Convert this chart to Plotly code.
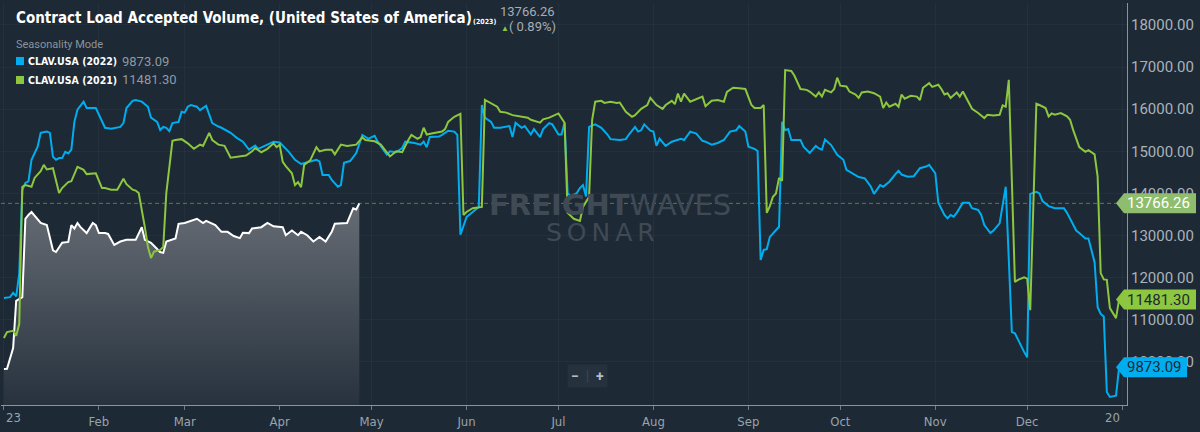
import pandas as pd
import plotly.graph_objects as go

# Seasonality mode: every year plotted on the 2023 calendar (day offsets from Jan 1)
days_2023 = [0, 1, 3, 4, 6, 7, 8, 9, 12, 14, 16, 17, 19, 21, 22, 23, 24, 25, 27, 29, 30, 31, 33, 34, 36,
             38, 40, 43, 45, 46, 48, 51, 52, 53, 56, 57, 59, 61, 63, 65, 66, 69, 71, 73, 75, 77, 78, 80,
             81, 84, 86, 88, 91, 92, 94, 96, 97, 99, 101, 103, 105, 107, 108, 112, 114, 115, 116]
vals_2023 = [9834, 9840, 10330, 11450, 11540, 13400, 13490, 13560, 13300, 13250, 12650, 12610, 12830,
             12850, 13250, 13170, 13300, 13200, 13060, 13300, 13250, 13060, 13060, 13040, 12780, 12860,
             12900, 12900, 13200, 12900, 12830, 12610, 12590, 12860, 12930, 13280, 13300, 13350, 13400,
             13300, 13350, 13250, 13090, 13090, 12990, 12940, 13070, 13060, 13170, 13200, 13300, 13220,
             13200, 13010, 13120, 13010, 13090, 13010, 12860, 12970, 12860, 13090, 13280, 13300, 13650,
             13620, 13766.26]

days_2022 = [0, 2, 3, 4, 5, 6, 7, 8, 9, 11, 12, 14, 15, 16, 17, 18, 19, 20, 21, 22, 23, 24, 26, 27, 30,
             31, 33, 35, 38, 39, 40, 42, 43, 45, 47, 48, 50, 51, 52, 53, 54, 55, 57, 58, 59, 60, 61, 63,
             64, 66, 68, 70, 71, 74, 76, 78, 80, 82, 83, 86, 88, 90, 93, 95, 97, 100, 102, 103, 104, 106,
             107, 109, 110, 111, 113, 115, 117, 119, 121, 122, 125, 126, 128, 130, 131, 134, 136, 137,
             138, 139, 142, 143, 145, 147, 148, 149, 151, 153, 155, 156, 157, 159, 160, 162, 165, 166,
             167, 169, 170, 172, 173, 175, 176, 178, 179, 181, 182, 183, 184, 185, 187, 188, 189, 190,
             191, 193, 195, 197, 198, 201, 203, 204, 206, 207, 208, 209, 211, 212, 213, 214, 216, 218,
             221, 222, 224, 226, 228, 229, 231, 233, 235, 237, 239, 240, 242, 243, 245, 246, 247, 248,
             249, 250, 252, 253, 254, 255, 256, 257, 260, 261, 263, 265, 266, 267, 268, 270, 272, 274,
             275, 277, 279, 281, 283, 284, 286, 287, 289, 291, 292, 293, 295, 297, 299, 301, 302, 304,
             305, 307, 308, 309, 310, 311, 313, 315, 316, 318, 319, 320, 322, 323, 325, 327, 329, 330,
             331, 333, 334, 335, 337, 338, 339, 341, 343, 346, 347, 348, 350, 351, 353, 354, 356, 357,
             358, 359, 360, 361, 363, 364]
vals_2022 = [11520, 11540, 11640, 11560, 12100, 14080, 14250, 14290, 14800, 15110, 15440, 15470, 15440,
             14870, 14800, 14840, 14840, 14990, 14950, 15040, 15700, 15990, 16180, 16030, 16030, 15870,
             15560, 15540, 15580, 15670, 16030, 16200, 16220, 16180, 16060, 15800, 15700, 15510, 15580,
             15560, 15480, 15670, 15700, 15940, 15920, 16060, 16100, 16060, 15980, 16080, 15670, 15590,
             15560, 15440, 15320, 15230, 15040, 15140, 15060, 15160, 15230, 15210, 14990, 14800, 14700,
             14760, 14800, 14760, 14440, 14440, 14320, 14160, 14200, 14730, 14770, 14960, 15390, 15300,
             15370, 15230, 14920, 15000, 14980, 15080, 15230, 15200, 15160, 15230, 15100, 15340, 15350,
             15390, 15490, 15470, 15390, 13020, 13440, 13560, 13680, 16100, 15800, 15700, 15560, 15560,
             15600, 15340, 15680, 15560, 15600, 15400, 15530, 15340, 15530, 15670, 15640, 15400, 15400,
             15680, 14010, 13930, 14010, 14130, 14200, 13930, 15580, 15640, 15560, 15400, 15290, 15270,
             15290, 15400, 15580, 15470, 15500, 15640, 15490, 15470, 15130, 15300, 15130, 15230, 15300,
             15270, 15470, 15420, 15250, 15230, 15160, 15200, 15270, 15470, 15500, 15600, 15470, 15110,
             15060, 15010, 12420, 12660, 12680, 12970, 13120, 13210, 15700, 15500, 15530, 15270, 15270,
             15110, 14960, 15130, 15070, 15040, 15280, 15150, 14920, 14800, 14560, 14480, 14390, 14360,
             14160, 13990, 14200, 14160, 14280, 14460, 14540, 14450, 14400, 14410, 14600, 14640, 14680,
             14480, 13780, 13490, 13410, 13490, 13450, 13540, 13780, 13780, 13650, 13610, 13490, 13250,
             13060, 13120, 13290, 14160, 10710, 10680, 10520, 10240, 10110, 13990, 14040, 14000, 13820,
             13700, 13650, 13650, 13540, 13410, 13120, 13060, 12930, 12930, 12370, 11300, 11140, 11080,
             9290, 9170, 9200, 9873.09]

days_2021 = [0, 1, 3, 4, 5, 6, 7, 9, 10, 12, 13, 14, 16, 17, 18, 19, 21, 22, 24, 26, 27, 30, 32, 33, 35,
             37, 39, 40, 42, 43, 44, 46, 47, 48, 49, 51, 52, 53, 55, 56, 58, 60, 61, 62, 64, 65, 67, 68,
             70, 72, 74, 76, 78, 79, 81, 82, 84, 86, 88, 89, 90, 91, 92, 94, 95, 96, 97, 98, 100, 102,
             103, 105, 107, 108, 110, 112, 115, 117, 118, 121, 123, 125, 126, 128, 130, 132, 133, 135,
             136, 137, 138, 140, 143, 144, 145, 147, 149, 150, 151, 153, 155, 156, 157, 159, 161, 162,
             164, 166, 169, 171, 172, 175, 176, 178, 181, 183, 184, 186, 188, 189, 191, 192, 193, 195,
             196, 198, 200, 201, 203, 205, 206, 208, 210, 211, 213, 215, 216, 218, 219, 220, 221, 222,
             224, 226, 228, 229, 231, 233, 235, 236, 238, 240, 242, 244, 245, 247, 248, 249, 250, 251,
             252, 253, 254, 255, 257, 258, 260, 262, 263, 265, 266, 267, 268, 270, 271, 272, 273, 275,
             276, 278, 279, 280, 282, 284, 286, 287, 288, 289, 291, 292, 293, 294, 296, 298, 299, 300,
             302, 303, 305, 306, 307, 308, 309, 311, 312, 313, 315, 316, 318, 320, 321, 323, 325, 326,
             327, 328, 330, 331, 333, 334, 335, 337, 338, 340, 341, 342, 343, 345, 347, 348, 349, 351,
             353, 354, 356, 357, 358, 359, 360, 361, 362, 363, 364]
vals_2021 = [10570, 10710, 10740, 10620, 10900, 14160, 14200, 14160, 14370, 14530, 14680, 14570, 14600,
             14280, 14010, 14130, 14270, 14290, 14630, 14560, 14460, 14480, 14130, 14130, 14090, 14090,
             14350, 14220, 14090, 14070, 14010, 13200, 12730, 12470, 12620, 12660, 12730, 14010, 15250,
             15270, 15290, 15190, 15130, 15060, 15160, 15130, 15440, 15270, 15160, 15130, 14850, 14870,
             14890, 14900, 15000, 15080, 14980, 15060, 15190, 15100, 15160, 14750, 14650, 14480, 14200,
             14270, 14150, 14680, 14790, 15100, 15000, 15040, 15040, 14930, 15160, 15130, 15160, 15330,
             15270, 15240, 15160, 14960, 14880, 15000, 14980, 15270, 15390, 15300, 15340, 15560, 15400,
             15430, 15470, 15530, 15700, 15820, 15890, 13490, 13560, 13650, 13680, 13680, 16220, 16130,
             16060, 15940, 15920, 15860, 15820, 15800, 15750, 15680, 15760, 15800, 15900, 15680, 13540,
             13400, 13350, 13680, 13920, 15750, 16180, 16200, 16150, 16180, 16150, 16160, 15940, 15820,
             15860, 16010, 16100, 16270, 16100, 16010, 16100, 16200, 16120, 16370, 16180, 16370, 16180,
             16240, 16300, 16070, 16200, 16220, 16180, 16410, 16510, 16500, 16480, 16100, 16030, 16030,
             16100, 13540, 13700, 13920, 14000, 14370, 14300, 16930, 16910, 16800, 16480, 16460, 16420,
             16300, 16400, 16300, 16460, 16400, 16480, 16750, 16560, 16540, 16420, 16350, 16270, 16400,
             16420, 16380, 16300, 16030, 16160, 16060, 16130, 16060, 16350, 16250, 16320, 16300, 16220,
             16510, 16620, 16530, 16580, 16480, 16350, 16380, 16270, 16400, 16300, 16420, 16150, 16010,
             15910, 15790, 15870, 15850, 15870, 16090, 16060, 16700, 11900, 11950, 12010, 11980, 11230,
             16130, 16100, 16030, 15830, 15900, 15870, 15910, 15830, 15750, 15510, 15100, 14990, 15030,
             14930, 14400, 12110, 11960, 11950, 11280, 11160, 11040, 11481.30]

month_ticks = ["2023-01-01", "2023-02-01", "2023-03-01", "2023-04-01", "2023-05-01", "2023-06-01",
               "2023-07-01", "2023-08-01", "2023-09-01", "2023-10-01", "2023-11-01", "2023-12-01",
               "2024-01-01"]
month_labels = ["", "Feb", "Mar", "Apr", "May", "Jun", "Jul", "Aug", "Sep", "Oct", "Nov", "Dec", ""]
y_ticks = [10000, 11000, 12000, 13000, 14000, 15000, 16000, 17000, 18000]

BG = "#1d2935"
BLUE = "#00aeef"
GREEN = "#8dc63f"
NARROW = "Liberation Sans Narrow, DejaVu Sans Condensed, sans-serif"

start = pd.Timestamp("2023-01-01")


def to_dates(days):
    return [start + pd.Timedelta(days=d) for d in days]


# plot area in pixels: x 1..1127, y 3..405
def px(x):
    return (x - 1) / 1126


def py(y):
    return (405 - y) / 402


fig = go.Figure()

fig.add_trace(go.Scatter(
    x=to_dates(days_2023), y=vals_2023, mode="lines", name="CLAV.USA (2023)",
    line=dict(color="white", width=2), fill="tozeroy",
    fillgradient=dict(type="vertical", colorscale=[[0, "#27323e"], [1, "#666c74"]],
                      start=8979, stop=13766),
))
fig.add_trace(go.Scatter(
    x=to_dates(days_2022), y=vals_2022, mode="lines", name="CLAV.USA (2022)",
    line=dict(color=BLUE, width=2),
))
fig.add_trace(go.Scatter(
    x=to_dates(days_2021), y=vals_2021, mode="lines", name="CLAV.USA (2021)",
    line=dict(color=GREEN, width=2),
))

last_2023 = vals_2023[-1]
last_2022 = vals_2022[-1]
last_2021 = vals_2021[-1]

# current-value guide line
fig.add_shape(type="line", xref="paper", yref="y", x0=0, x1=1, y0=last_2023, y1=last_2023,
              line=dict(color="rgba(141,198,63,0.55)", width=1, dash="4px,3px"), layer="below")

# value tags on the right axis
half = 10 / 0.042125
tags = [
    (last_2023, "#8fbd6e", "white", 1196),
    (last_2021, GREEN, "#1d2935", 1196),
    (last_2022, BLUE, "#1d2935", 1187),
]
for val, col, txt, right in tags:
    x_tip, x_body, x_r = px(1116), px(1124), px(right)
    path = (f"M {x_tip} {val} L {x_body} {val + half} L {x_r} {val + half} "
            f"L {x_r} {val - half} L {x_body} {val - half} Z")
    fig.add_shape(type="path", xref="paper", yref="y", path=path,
                  fillcolor=col, line=dict(width=0), layer="above")
    fig.add_annotation(xref="paper", yref="y", x=px(1125), y=val, text=f"{val:.2f}",
                       showarrow=False, xanchor="left", yanchor="middle",
                       font=dict(family="Roboto", size=15, color=txt))

# title block
fig.add_annotation(xref="paper", yref="paper", x=px(14), y=py(18), xanchor="left", yanchor="middle",
                   text="<b>Contract Load Accepted Volume, (United States of America)</b>",
                   showarrow=False, font=dict(family=NARROW, size=15, color="white"))
fig.add_annotation(xref="paper", yref="paper", x=px(471), y=py(22), xanchor="left", yanchor="middle",
                   text="<b>(2023)</b>", showarrow=False,
                   font=dict(family=NARROW, size=7, color="white"))
fig.add_annotation(xref="paper", yref="paper", x=px(498), y=py(12), xanchor="left", yanchor="middle",
                   text=f"{last_2023:.2f}", showarrow=False,
                   font=dict(family="Roboto", size=13, color="#a5adb5"))
fig.add_annotation(xref="paper", yref="paper", x=px(499), y=py(26), xanchor="left", yanchor="middle",
                   text=f"<span style='color:{GREEN};font-size:8px'>▲</span>( 0.89%)",
                   showarrow=False, font=dict(family="Roboto", size=13, color="#a5adb5"))

# legend block
fig.add_annotation(xref="paper", yref="paper", x=px(14), y=py(45), xanchor="left", yanchor="middle",
                   text="Seasonality Mode", showarrow=False,
                   font=dict(family="Roboto", size=11, color="#8a949e"))
legend_rows = [("CLAV.USA (2022)", last_2022, BLUE, 61), ("CLAV.USA (2021)", last_2021, GREEN, 80)]
for label, val, col, yy in legend_rows:
    fig.add_shape(type="rect", xref="paper", yref="paper", x0=px(16), x1=px(24),
                  y0=py(yy + 4), y1=py(yy - 4), fillcolor=col, line=dict(width=0))
    fig.add_annotation(xref="paper", yref="paper", x=px(26), y=py(yy), xanchor="left",
                       yanchor="middle", text=f"<b>{label}</b>", showarrow=False,
                       font=dict(family=NARROW, size=10.5, color="white"))
    fig.add_annotation(xref="paper", yref="paper", x=px(120), y=py(yy), xanchor="left",
                       yanchor="middle", text=f"{val:.2f}", showarrow=False,
                       font=dict(family="Roboto", size=13, color="#8f99a3"))

# watermark
fig.add_annotation(xref="paper", yref="paper", x=px(610), y=py(205), xanchor="center",
                   yanchor="middle", text="<b>FREIGHT</b>WAVES", showarrow=False,
                   font=dict(family="DejaVu Sans", size=29, color="#3f4a55"))
fig.add_annotation(xref="paper", yref="paper", x=px(600), y=py(232), xanchor="center",
                   yanchor="middle", text="S\u2009O\u2009N\u2009A\u2009R", showarrow=False,
                   font=dict(family="DejaVu Sans", size=25, color="#3f4a55"))

# zoom buttons
fig.add_annotation(xref="paper", yref="paper", x=px(587), y=py(376), xanchor="center",
                   yanchor="middle", text="<b>−</b>  <span style='color:#3b4855'>|</span>  <b>+</b>",
                   showarrow=False, bgcolor="#25313d", borderpad=3,
                   font=dict(family="Roboto", size=14, color="#b5bdc5"))

# clipped year labels at both ends of the x axis
fig.add_annotation(xref="x", yref="paper", x=month_ticks[0], y=py(418), xanchor="left",
                   yanchor="middle", text="23", showarrow=False,
                   font=dict(family=NARROW, size=13, color="#9aa3ab"))
fig.add_annotation(xref="x", yref="paper", x=month_ticks[-1], y=py(418), xanchor="right",
                   yanchor="middle", text="20", showarrow=False,
                   font=dict(family=NARROW, size=13, color="#9aa3ab"))

fig.update_layout(
    width=1200, height=432,
    margin=dict(l=1, r=73, t=3, b=27),
    paper_bgcolor=BG, plot_bgcolor=BG,
    showlegend=False,
)
fig.update_xaxes(
    range=["2022-12-31 01:00", "2024-01-02 14:00"],
    tickvals=month_ticks, ticktext=month_labels,
    tickfont=dict(family=NARROW, size=13, color="#9aa3ab"),
    showgrid=True, gridcolor="rgba(255,255,255,0.035)",
    showline=True, linecolor="#8a949e", linewidth=1,
    ticks="outside", ticklen=4, tickcolor="#6f7a85", zeroline=False,
)
fig.update_yaxes(
    side="right", range=[8979, 18522],
    tickvals=y_ticks, tickformat=".2f",
    tickfont=dict(family="Roboto", size=15, color="#aab2ba"),
    showgrid=True, gridcolor="rgba(255,255,255,0.035)",
    showline=True, linecolor="#8a949e", linewidth=1, zeroline=False,
)

# the page body keeps the browser's default margin otherwise
fig.write_html("out.html", config={"displayModeBar": False},
               post_script="document.body.style.margin='0';")
